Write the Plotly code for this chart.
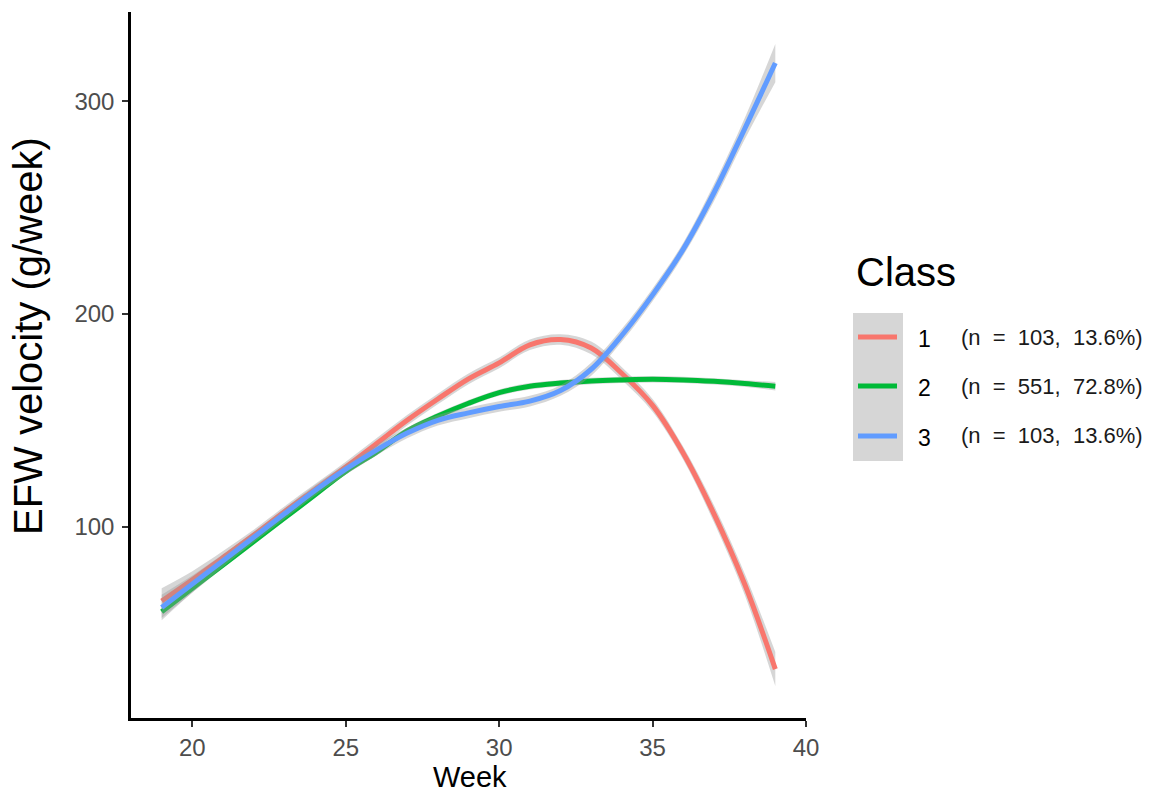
import plotly.graph_objects as go

weeks = list(range(19, 40))

class1 = [65, 75, 85.5, 96, 107, 117.5, 128, 139, 150, 160, 169.5, 177, 185.5, 188, 184, 172, 157, 134.5, 106, 73, 33]
class2 = [60, 71, 82, 93, 104, 115, 126, 135, 145, 152, 158, 163, 166, 167.5, 168.5, 169, 169.3, 169, 168.3, 167.3, 166]
class3 = [62, 73, 84, 95, 106, 117, 127, 136, 144, 150, 153.5, 156.5, 159, 164, 174, 190, 209, 230.5, 257, 287, 318]

se1 = [6, 4, 3, 2.5, 2.5, 2.5, 2.5, 2.5, 2.5, 2.5, 2.5, 2.5, 2.5, 2.5, 3, 3, 3, 3, 4, 5, 8]
se2 = [3, 2, 1.5, 1.5, 1.5, 1.5, 1.5, 1.5, 1.5, 1.5, 1.5, 1.5, 1.5, 1.5, 1.5, 1.5, 1.5, 1.5, 1.5, 1.5, 2]
se3 = [6, 4, 3, 2.5, 2.5, 2.5, 2.5, 2.5, 2.5, 2.5, 2.5, 2.5, 2.5, 2.5, 3, 3, 3, 3, 4, 5, 9]

class_names = ["1", "2", "3"]
class_n = ["103", "551", "103"]
class_pct = ["13.6%", "72.8%", "13.6%"]
colors = ["#F8766D", "#00BA38", "#619CFF"]

x_ticks = [20, 25, 30, 35, 40]
y_ticks = [100, 200, 300]

FONT = "Liberation Sans, Arial, Helvetica, sans-serif"
W, H = 1154, 793
L, R, T, B = 131, 806, 12, 718

def px(x):
    return (x - L) / (R - L)

def py(y):
    return (B - y) / (B - T)

fig = go.Figure()
series = [class1, class2, class3]
ses = [se1, se2, se3]
SM = 1.0
for vals, se, col, name in zip(series, ses, colors, class_names):
    lo = [v - s for v, s in zip(vals, se)]
    hi = [v + s for v, s in zip(vals, se)]
    fig.add_trace(go.Scatter(x=weeks, y=lo, mode="lines", line=dict(width=0, shape="spline", smoothing=SM),
                             showlegend=False, hoverinfo="skip"))
    fig.add_trace(go.Scatter(x=weeks, y=hi, mode="lines", line=dict(width=0, shape="spline", smoothing=SM),
                             fill="tonexty", fillcolor="rgba(153,153,153,0.4)", showlegend=False, hoverinfo="skip"))
    fig.add_trace(go.Scatter(x=weeks, y=vals, mode="lines", name=name,
                             line=dict(color=col, width=5, shape="spline", smoothing=SM),
                             showlegend=False))

axis_common = dict(showgrid=False, zeroline=False, showline=True, linecolor="black", linewidth=2.5,
                   ticks="outside", ticklen=6, tickwidth=2, tickcolor="#333333",
                   tickfont=dict(family=FONT, size=24, color="#4D4D4D"))

fig.update_xaxes(range=[18, 40], tickvals=x_ticks, ticklabelstandoff=0, **axis_common)
fig.update_yaxes(range=[10, 342], tickvals=y_ticks, ticklabelstandoff=3, **axis_common)

shapes = [dict(type="rect", xref="paper", yref="paper", x0=px(853), x1=px(903), y0=py(461), y1=py(313),
               fillcolor="rgb(214,214,214)", line=dict(width=0), layer="above")]
annotations = [
    dict(text="Week", xref="paper", yref="paper", x=px(470), y=py(777), xanchor="center", yanchor="middle",
         showarrow=False, font=dict(family=FONT, size=29, color="black")),
    dict(text="EFW velocity (g/week)", xref="paper", yref="paper", x=px(28), y=py(336), xanchor="center",
         yanchor="middle", textangle=-90, showarrow=False, font=dict(family=FONT, size=40, color="black")),
    dict(text="Class", xref="paper", yref="paper", x=px(854), y=py(272), xanchor="left", yanchor="middle",
         showarrow=False, font=dict(family=FONT, size=40, color="black")),
]
key_y = [337, 386, 436]
sp = "&nbsp;&nbsp;"
for name, n, pct, col, ky in zip(class_names, class_n, class_pct, colors, key_y):
    lab = "(n" + sp + "=" + sp + n + "," + sp + pct + ")"
    shapes.append(dict(type="line", xref="paper", yref="paper", x0=px(858), x1=px(897), y0=py(ky), y1=py(ky),
                       line=dict(color=col, width=5), layer="above"))
    annotations.append(dict(text=name, xref="paper", yref="paper", x=px(916), y=py(ky + 2), xanchor="left",
                            yanchor="middle", showarrow=False, font=dict(family=FONT, size=23, color="black")))
    annotations.append(dict(text=lab, xref="paper", yref="paper", x=px(959), y=py(ky), xanchor="left",
                            yanchor="middle", showarrow=False, font=dict(family=FONT, size=22, color="#1A1A1A")))

fig.update_layout(width=W, height=H, margin=dict(l=L, r=W - R, t=T, b=H - B),
                  plot_bgcolor="white", paper_bgcolor="white", showlegend=False,
                  shapes=shapes, annotations=annotations)

fig.write_html("out.html")
